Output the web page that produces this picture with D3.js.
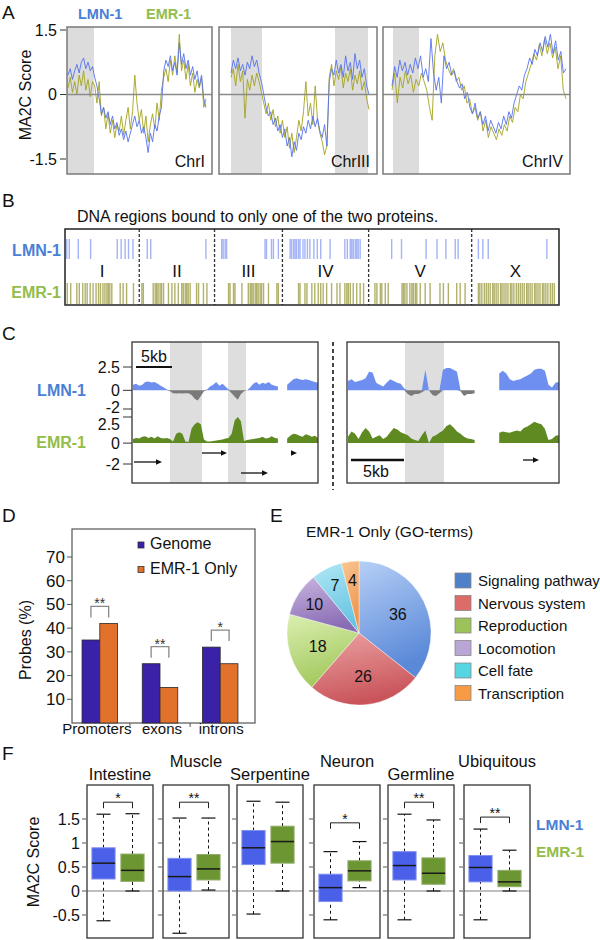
<!DOCTYPE html>
<html><head><meta charset="utf-8">
<script src="https://cdn.jsdelivr.net/npm/d3@7"></script>
<style>body{margin:0;background:#fff}svg{display:block}text{font-family:"Liberation Sans",Arial,Helvetica,sans-serif}</style>
</head><body>
<script>
// ================= DATA =================
// Panel A : MA2C score along chromosomes
const aSeries = ["LMN-1", "EMR-1"];
const aChroms = ["ChrI", "ChrIII", "ChrIV"];
const aTicks = [1.5, 0, -1.5];
const lmnChrI = [0.45,0.6,0.35,0.55,0.7,0.5,0.75,0.85,0.6,0.75,0.55,0.65,0.4,0.2,-0.1,-0.45,-0.3,-0.55,-0.4,-0.7,-0.5,-0.8,-0.65,-0.95,-0.8,-1.05,-0.85,-1.1,-0.9,-0.7,-0.5,-0.75,-0.6,-0.9,-0.75,-1.0,-1.35,-0.9,-1.1,-0.7,-0.85,-0.5,-0.3,0.55,0.8,0.65,0.9,0.55,0.75,0.45,1.2,0.7,0.95,0.6,0.8,0.45,0.65,0.35,0.55,0.2,0.45,-0.1,-0.3];
const emrChrI = [0.15,0.4,0.05,0.3,0.0,0.45,0.2,0.55,0.1,0.35,-0.05,0.3,0.2,-0.2,0.3,-0.5,-0.3,-0.8,-0.45,-0.9,-0.6,-1.0,-0.7,-0.85,-0.5,-0.95,-0.6,-0.3,-0.8,-0.4,0.45,-0.2,-0.6,-0.35,-0.9,-0.5,-1.1,-0.7,-0.45,-0.8,-0.2,-0.6,0.1,0.4,0.6,0.3,0.8,0.45,0.9,0.5,1.4,0.55,0.8,0.35,0.7,0.2,0.5,0.05,0.35,0.15,0.4,-0.3,-0.1];
const lmnChrIII = [0.5,0.8,0.6,0.85,0.55,0.7,0.45,0.75,0.6,0.9,0.65,0.8,0.5,0.3,0.0,-0.3,-0.5,-0.4,-0.7,-0.55,-0.85,-0.7,-1.0,-0.8,-1.2,-1.0,-1.45,-1.1,-1.3,-0.9,-1.05,-0.75,-0.9,-0.6,-0.8,-0.5,-0.75,-0.55,-0.85,-1.0,-0.7,-1.2,0.3,0.6,0.45,0.8,0.5,0.7,0.4,0.9,0.55,0.75,0.35,0.95,0.6,0.8,0.4,0.6,0.2,0.0];
const emrChrIII = [0.4,0.6,0.2,0.7,0.3,0.55,-0.55,0.35,0.1,0.45,0.2,0.5,0.3,0.05,-0.2,-0.45,-0.2,-0.6,-0.35,-0.75,-0.5,-0.9,-0.6,-1.0,-0.75,-1.25,-0.9,-1.35,-1.0,-0.6,-0.85,-0.4,0.3,-0.5,-0.2,-0.7,0.2,-0.6,-0.9,-1.1,-1.4,-1.2,0.4,0.7,0.2,0.55,0.35,0.65,0.15,0.5,0.3,0.6,0.1,0.45,0.25,0.55,0.1,0.3,-0.1,-0.35];
const lmnChrIV = [0.2,0.65,0.4,0.8,0.55,0.75,0.45,0.7,0.5,0.85,0.6,0.9,0.4,0.6,0.3,1.3,0.5,0.1,0.4,-0.2,0.9,0.6,0.75,0.45,0.55,0.3,0.15,0.25,-0.1,0.05,-0.3,-0.45,-0.2,-0.55,-0.4,-0.7,-0.5,-0.85,-0.6,-0.75,-0.9,-0.65,-0.8,-0.5,-0.7,-0.4,-0.55,-0.2,0.0,0.2,0.1,0.45,0.6,0.85,0.7,1.05,0.9,1.2,1.0,1.35,1.1,1.4,0.95,1.25,0.8,1.0,0.5,0.6];
const emrChrIV = [0.1,0.5,-0.2,0.4,0.15,0.55,0.25,0.45,0.05,0.35,0.2,0.5,0.3,0.1,-0.3,-0.6,0.9,1.4,1.0,1.2,0.8,0.6,0.45,0.6,0.3,0.4,0.1,0.2,-0.2,-0.1,-0.45,-0.3,-0.6,-0.4,-0.85,-0.6,-1.0,-0.75,-0.9,-1.05,-0.8,-0.95,-0.7,-0.85,-0.5,-0.65,-0.3,-0.4,0.0,-0.1,0.3,0.5,0.7,0.95,0.8,1.15,0.9,1.3,0.95,1.2,0.85,1.1,0.6,0.9,0.1,-0.1];

// Panel B : genome positions (Mb) of regions bound by only one protein
const chromNames = ["I","II","III","IV","V","X"];
const chromSizesMb = [15.07,15.28,13.78,17.49,20.92,17.72];
const lmnOnlyPos = [0.35,0.87,2.7,5.2,10.6,11.4,12.2,12.9,13.8,16.7,17.4,28.6,31.8,32.1,32.5,32.8,40.6,40.9,41.9,42.3,43.3,45.7,46.0,46.4,46.7,47.0,47.4,47.7,48.3,48.7,49.2,49.7,50.5,51.2,51.9,53.8,56.8,57.3,57.9,58.2,58.5,58.9,59.2,59.5,59.9,66.3,68.3,73.3,75.5,77.3,79.2,79.8,83.9,84.8,85.9,97.8];
const emrOnlyPos = [0.47,1.16,2.4,2.9,3.6,4.1,4.5,5.1,5.7,6.3,6.8,7.2,7.7,8.1,8.5,8.8,9.1,9.5,11.2,11.8,12.5,13.9,
 15.6,15.9,17.9,18.3,18.6,18.9,19.3,19.6,20.0,21.0,21.7,22.3,23.0,23.7,24.0,24.4,24.7,25.0,25.4,26.7,27.1,28.1,28.8,
 33.2,33.5,34.2,34.5,35.9,37.2,37.6,37.9,38.2,38.6,38.9,39.2,39.6,39.9,40.3,41.3,43.0,43.3,
 47.4,47.7,48.7,49.1,50.1,50.7,51.4,51.9,52.4,53.1,54.1,55.2,55.8,56.8,57.2,57.5,57.9,58.5,59.2,59.9,60.6,
 62.9,63.3,64.0,64.3,65.0,65.6,68.4,68.7,69.0,69.4,70.0,70.4,70.7,71.1,71.4,72.1,73.1,74.1,76.1,76.8,77.8,79.5,80.2,81.2,
 83.9,84.2,84.6,85.1,85.5,85.9,86.3,86.8,87.1,87.5,87.9,88.4,88.7,89.1,89.5,89.9,90.4,90.7,91.1,91.6,92.0,92.4,92.8,93.2,93.7,94.0,94.4,94.8,95.3,95.6,96.0,96.4,96.9,97.2,97.6,98.0,98.5,98.9,99.3];

// Panel C : ChIP tracks (score), two loci; null = no probes
const cTicks = [2.5, 0, -2];
const lmnTrackLeft = [0.6,0.7,0.5,0.6,0.9,0.95,0.85,0.9,0.7,0.5,0.3,0.1,-0.1,-0.3,-0.35,-0.3,-0.35,-0.3,-0.3,-0.5,-0.9,-1.1,-0.6,-0.1,0.1,0.4,0.6,0.9,0.5,0.7,0.4,0.1,-0.3,-0.7,-1.0,-0.4,-0.1,0.0,0.3,0.7,0.9,0.6,0.8,0.7,0.9,0.6,0.5,0.4,null,null,0.6,0.9,1.2,1.3,1.2,1.1,1.2,1.1,1.0,0.9,0.8];
const emrTrackLeft = [0.4,0.5,0.45,0.6,0.65,0.5,0.6,0.45,0.65,0.5,0.45,0.5,0.4,0.15,0.9,1.05,0.9,0.15,0.1,1.4,1.8,2.0,1.8,0.35,0.15,0.15,0.2,0.25,0.3,0.35,0.45,0.5,0.9,2.2,2.5,2.1,0.2,0.3,0.35,0.4,0.45,0.5,0.6,0.45,0.5,0.65,0.5,0.45,null,null,0.45,0.7,0.9,0.85,0.7,0.6,0.85,0.75,0.6,0.7,0.5];
const lmnTrackRight = [1.0,1.2,0.9,1.0,1.1,1.3,2.0,1.9,0.8,0.6,0.4,0.8,1.2,1.0,0.8,0.7,0.2,-0.4,-0.6,-0.4,-0.4,-0.2,2.2,0.0,-0.5,-0.6,-0.3,2.2,2.4,2.4,2.2,2.0,-0.1,-0.6,-0.4,-0.4,-0.3,null,null,null,null,null,null,1.8,2.1,1.8,1.2,1.0,1.1,1.2,1.4,1.6,1.8,2.2,2.3,2.3,2.1,0.6,0.3,0.8,0.9];
const emrTrackRight = [0.6,1.1,0.9,0.4,1.05,1.45,1.1,0.45,0.6,0.75,0.4,0.6,1.05,1.45,1.3,1.05,0.9,0.75,0.45,0.3,0.2,0.75,1.2,0.0,0.6,0.75,1.0,1.2,1.65,1.8,1.5,1.1,0.9,0.6,0.45,0.4,0.3,null,null,null,null,null,null,1.0,1.1,1.05,1.0,1.1,1.2,1.1,1.45,1.6,1.8,2.05,1.9,1.8,1.35,0.3,0.4,0.7,0.75];

// Panel D
const dCategories = ["Promoters","exons","introns"];
const dSeries = ["Genome","EMR-1 Only"];
const dGenome = [35,25,32];
const dEmrOnly = [42,15,25];
const dTicks = [10,20,30,40,50,60,70];
const dSig = ["**","**","*"];

// Panel E
const goTerms = ["Signaling pathway","Nervous system","Reproduction","Locomotion","Cell fate","Transcription"];
const goCounts = [36,26,18,10,7,4];

// Panel F : box stats [low whisker, Q1, median, Q3, high whisker]
const tissues = ["Intestine","Muscle","Serpentine","Neuron","Germline","Ubiquitous"];
const lmnBox = [[-0.62,0.25,0.58,0.9,1.6],[-0.88,0.0,0.3,0.68,1.52],[-0.48,0.55,0.9,1.26,1.87],[-0.6,-0.22,0.07,0.35,0.82],[-0.6,0.23,0.53,0.82,1.6],[-0.6,0.19,0.49,0.74,1.29]];
const emrBox = [[0.0,0.2,0.43,0.77,1.61],[0.02,0.23,0.46,0.76,1.52],[0.0,0.58,1.03,1.35,1.85],[0.07,0.21,0.42,0.63,1.03],[0.0,0.14,0.37,0.69,1.48],[0.0,0.09,0.19,0.43,0.85]];
const fTicks = [1.5,1,0.5,0,-0.5];
const fSig = ["*","**","","*","**","**"];
const fSigLevel = [1.85,1.85,null,1.42,1.85,1.54];

// ================= STYLE =================
const LMN_TXT = "#4a7fd6", EMR_TXT = "#93bd49";
const svg = d3.select("body").append("svg").attr("width",600).attr("height",940);
const defs = svg.append("defs");
function T(x,y,s,o={}){
  const t = svg.append("text").attr("x",x).attr("y",y).text(s)
    .attr("font-size",o.size||16).attr("fill",o.fill||"#111").attr("text-anchor",o.anchor||"start");
  if(o.weight) t.attr("font-weight",o.weight);
  if(o.rotate!=null) t.attr("transform",`rotate(${o.rotate},${x},${y})`);
  return t;
}
function L(x1,y1,x2,y2,c,w,dash){
  const l = svg.append("line").attr("x1",x1).attr("y1",y1).attr("x2",x2).attr("y2",y2).attr("stroke",c||"#111").attr("stroke-width",w||1);
  if(dash) l.attr("stroke-dasharray",dash);
  return l;
}
// panel letters
[["A",2,19],["B",2,207],["C",2,340],["D",2,522],["E",270,522],["F",2,760]].forEach(p=>T(p[1],p[2],p[0],{size:19}));

// ================= PANEL A =================
T(78,19,aSeries[0],{size:14.5,weight:"bold",fill:LMN_TXT});
T(146,19,aSeries[1],{size:14.5,weight:"bold",fill:EMR_TXT});
const aTop=27, aBot=174;
const aY = d3.scaleLinear().domain([-1.5,1.5]).range([159,30]);
T(31,95,"MA2C Score",{size:16,anchor:"middle",rotate:-90});
aTicks.forEach(v=>{ L(60,aY(v),66,aY(v),"#333",1); T(57,aY(v)+5.5,String(v),{size:16,anchor:"end"}); });
const aLayout=[{x0:67,x1:212,d0:68,d1:206,shades:[[67,94]]},{x0:219,x1:377,d0:231,d1:369,shades:[[231,262],[335,368]]},{x0:383,x1:570,d0:392,d1:566,shades:[[393,419]]}];
const aData=[[lmnChrI,emrChrI],[lmnChrIII,emrChrIII],[lmnChrIV,emrChrIV]];
aLayout.forEach((p,k)=>{
  defs.append("clipPath").attr("id","clipA"+k).append("rect").attr("x",p.x0).attr("y",aTop).attr("width",p.x1-p.x0).attr("height",aBot-aTop);
  const g = svg.append("g").attr("clip-path",`url(#clipA${k})`);
  p.shades.forEach(s=>g.append("rect").attr("x",s[0]).attr("y",aTop).attr("width",s[1]-s[0]).attr("height",aBot-aTop).attr("fill","#dcdcdc"));
  const [lmn,emr]=aData[k];
  [[emr,"#a3a31e"],[lmn,"#5572f0"]].forEach(([vals,col])=>{
    const xs=d3.scaleLinear().domain([0,vals.length-1]).range([p.d0,p.d1]);
    g.append("path").datum(vals).attr("d",d3.line().x((d,i)=>xs(i)).y(d=>aY(d)))
      .attr("fill","none").attr("stroke",col).attr("stroke-width",1).attr("stroke-linejoin","round").attr("opacity",0.9);
  });
  L(p.x0,aY(0),p.x1,aY(0),"#8a8a8a",1.5);
  svg.append("rect").attr("x",p.x0).attr("y",aTop).attr("width",p.x1-p.x0).attr("height",aBot-aTop).attr("fill","none").attr("stroke","#7a7a7a").attr("stroke-width",1.5);
  T(p.x1-7,167,aChroms[k],{size:16,anchor:"end"});
});

// ================= PANEL B =================
T(77,222,"DNA regions bound to only one of the two proteins.",{size:16});
const genomeLen=d3.sum(chromSizesMb);
const bX=d3.scaleLinear().domain([0,genomeLen]).range([65,559]);
const cum=d3.cumsum(chromSizesMb);
lmnOnlyPos.forEach(p=>L(bX(p),239,bX(p),259,"#5a78f0",1.4).attr("opacity",0.55));
emrOnlyPos.forEach(p=>L(bX(p),283,bX(p),304,"#7e7e0a",1.4).attr("opacity",0.6));
chromNames.forEach((c,i)=>{
  const s=i?cum[i-1]:0;
  T(bX((s+cum[i])/2),277,c,{size:17,anchor:"middle"});
  if(i>0) L(bX(s),229,bX(s),305,"#333",1.3,"3,2");
});
svg.append("rect").attr("x",65).attr("y",229).attr("width",494).attr("height",76).attr("fill","none").attr("stroke","#222").attr("stroke-width",1.5);
T(61,256,"LMN-1",{size:16,weight:"bold",fill:LMN_TXT,anchor:"end"});
T(61,298,"EMR-1",{size:16,weight:"bold",fill:EMR_TXT,anchor:"end"});

// ================= PANEL C =================
const cTop=342,cBot=483;
const yLmn=d3.scaleLinear().domain([-2,2.5]).range([409,367]);
const yEmr=d3.scaleLinear().domain([-2,2.5]).range([464,417]);
const cBoxes=[{x0:132,x1:318,lmn:lmnTrackLeft,emr:emrTrackLeft,shades:[[170,202],[228,246]],arrows:[[134,162,462],[202,227,453],[241,268,473],[291,297,453]]},
              {x0:347,x1:559,lmn:lmnTrackRight,emr:emrTrackRight,shades:[[405,444]],arrows:[[523,539,460]]}];
cBoxes.forEach((b,k)=>{
  defs.append("clipPath").attr("id","clipC"+k).append("rect").attr("x",b.x0).attr("y",cTop).attr("width",b.x1-b.x0).attr("height",cBot-cTop);
  const g=svg.append("g").attr("clip-path",`url(#clipC${k})`);
  b.shades.forEach(s=>g.append("rect").attr("x",s[0]).attr("y",cTop).attr("width",s[1]-s[0]).attr("height",cBot-cTop).attr("fill","#dedede"));
  const xs=d3.scaleLinear().domain([0,b.lmn.length-1]).range([b.x0+1,b.x1]);
  const area=(ys,f)=>d3.area().defined(d=>d!=null).x((d,i)=>xs(i)).y0(ys(0)).y1(d=>ys(f(d)));
  g.append("path").datum(b.lmn).attr("d",area(yLmn,d=>Math.max(d,0))).attr("fill","#6e8ff0");
  g.append("path").datum(b.lmn).attr("d",area(yLmn,d=>Math.min(d,0))).attr("fill","#7a7a7a");
  g.append("path").datum(b.emr).attr("d",area(yEmr,d=>Math.max(d,0))).attr("fill","#5f8a22");
  g.append("path").datum(b.emr).attr("d",area(yEmr,d=>Math.min(d,0))).attr("fill","#7a7a7a");
  b.arrows.forEach(a=>{
    L(a[0],a[2],a[1]-3,a[2],"#111",1.3);
    svg.append("path").attr("d",`M${a[1]},${a[2]}L${a[1]-6},${a[2]-2.8}L${a[1]-6},${a[2]+2.8}Z`).attr("fill","#111");
  });
  svg.append("rect").attr("x",b.x0).attr("y",cTop).attr("width",b.x1-b.x0).attr("height",cBot-cTop).attr("fill","none").attr("stroke","#333").attr("stroke-width",1.3);
});
L(333,342,333,490,"#444",2,"4,3");
// scale bars
L(136,367,172,367,"#111",2); T(154,362,"5kb",{size:16,anchor:"middle"});
L(351,460,404,460,"#111",2.5); T(376,477,"5kb",{size:16,anchor:"middle"});
// axes
[[yLmn,0],[yEmr,1]].forEach(([ys,k])=>{
  cTicks.forEach(v=>{
    L(123,ys(v),132,ys(v),"#333",1);
    const shift=(k===1&&v===2.5)?7:(k===0&&v===-2)?-2:0;
    T(120,ys(v)+5.5+shift,String(v),{size:16,anchor:"end"});
  });
});
T(86,396,"LMN-1",{size:16,weight:"bold",fill:LMN_TXT,anchor:"end"});
T(86,448,"EMR-1",{size:16,weight:"bold",fill:EMR_TXT,anchor:"end"});

// ================= PANEL D =================
const dY=d3.scaleLinear().domain([0,70]).range([723,557]);
const dX=d3.scaleBand().domain(dCategories).range([70,250]).paddingInner(0.41).paddingOuter(0.2);
const dIn=d3.scaleBand().domain(dSeries).range([0,dX.bandwidth()]);
const dCols=["#3b20a8","#e2712b"];
svg.append("rect").attr("x",72).attr("y",529).attr("width",183).attr("height",194).attr("fill","none").attr("stroke","#555").attr("stroke-width",1.2);
dTicks.forEach(v=>{ L(67,dY(v),72,dY(v),"#555",1); T(65,dY(v)+6,String(v),{size:17,anchor:"end"}); });
const dLabelX=[-3,2,1];
dCategories.forEach((c,i)=>{
  const vals=[dGenome[i],dEmrOnly[i]];
  vals.forEach((v,j)=>{
    svg.append("rect").attr("x",dX(c)+dIn(dSeries[j])).attr("y",dY(v)).attr("width",dIn.bandwidth()).attr("height",dY(0)-dY(v))
      .attr("fill",dCols[j]).attr("stroke","#2a2a2a").attr("stroke-width",0.8);
  });
  const c1=dX(c)+dIn(dSeries[0])+dIn.bandwidth()/2, c2=dX(c)+dIn(dSeries[1])+dIn.bandwidth()/2;
  const top=dY(d3.max(vals))-17;
  svg.append("path").attr("d",`M${c1},${top+11}V${top}H${c2}V${top+11}`).attr("fill","none").attr("stroke","#888").attr("stroke-width",1.3);
  T((c1+c2)/2,top+2,dSig[i],{size:14,anchor:"middle",fill:"#333"});
  T(dX(c)+dX.bandwidth()/2+dLabelX[i],734,c,{size:15,anchor:"middle"});
  if(i>0) L(dX(c)-dX.step()*dX.paddingInner()/2,723,dX(c)-dX.step()*dX.paddingInner()/2,727,"#555",1);
});
dSeries.forEach((s,j)=>{
  svg.append("rect").attr("x",138).attr("y",542+j*24.5).attr("width",6).attr("height",6).attr("fill",dCols[j]).attr("stroke","#333").attr("stroke-width",0.8);
  T(150,549+j*24.5,s,{size:16});
});
T(31,640,"Probes (%)",{size:16,anchor:"middle",rotate:-90});

// ================= PANEL E =================
T(306,537,"EMR-1 Only (GO-terms)",{size:15.5});
const pcx=359,pcy=633,pr=72;
const pieLight=["#b6cff6","#eca3a3","#dcefb2","#c8b6e0","#b0e8f5","#f9c794"];
const pieDark=["#5a89d8","#c9555b","#a3c95e","#8a6cb5","#68c4e2","#ee944c"];
const legCols=["#4f81c9","#dd6b68","#9cc35a","#b9a5d6","#58d5e3","#f79b45"];
pieLight.forEach((c,i)=>{
  const gr=defs.append("linearGradient").attr("id","pg"+i).attr("x1",0).attr("y1",0).attr("x2",0.3).attr("y2",1);
  gr.append("stop").attr("offset","0%").attr("stop-color",c);
  gr.append("stop").attr("offset","100%").attr("stop-color",pieDark[i]);
});
const arcs=d3.pie().sort(null).value(d=>d)(goCounts);
const arc=d3.arc().innerRadius(0).outerRadius(pr);
const pg=svg.append("g").attr("transform",`translate(${pcx},${pcy})`);
pg.selectAll("path").data(arcs).join("path").attr("d",arc).attr("fill",(d,i)=>`url(#pg${i})`).attr("stroke","#fff").attr("stroke-width",0.4);
arcs.forEach(a=>{
  const rr=a.value<12?pr*0.74:pr*0.6;
  const m=(a.startAngle+a.endAngle)/2;
  T(pcx+Math.sin(m)*rr,pcy-Math.cos(m)*rr+6,String(a.value),{size:16,anchor:"middle"});
});
goTerms.forEach((t,i)=>{
  svg.append("rect").attr("x",455).attr("y",573+i*22.5).attr("width",16).attr("height",15).attr("fill",legCols[i]).attr("stroke","#888").attr("stroke-width",0.8);
  T(478,586+i*22.5,t,{size:15});
});

// ================= PANEL F =================
const fY=d3.scaleLinear().domain([0,1.5]).range([891,819]);
const fLefts=[87,163,237,314,388,464], fW=66, fTop=785, fBot=938;
const fIn=d3.scaleBand().domain(aSeries).range([2,60]).paddingInner(0.2).paddingOuter(0.1);
const fFill=["#4a60e8","#6b9632"], fStroke=["#8090ee","#94ad6c"];
T(39,862,"MA2C Score",{size:16,anchor:"middle",rotate:-90});
fTicks.forEach(v=>T(80,fY(v)+6,String(v),{size:16,anchor:"end"}));
tissues.forEach((t,i)=>{
  const x0=fLefts[i];
  T(x0+fW/2,i%2?767:780,t,{size:16.5,anchor:"middle"});
  fTicks.forEach(v=>L(x0-5,fY(v),x0-1,fY(v),"#555",1));
  L(x0,fY(0),x0+fW,fY(0),"#aaa",1.5);
  const cs=[];
  [lmnBox[i],emrBox[i]].forEach((s,j)=>{
    const bx=x0+fIn(aSeries[j]), bw=fIn.bandwidth(), cx=bx+bw/2; cs.push(cx);
    L(cx,fY(s[3]),cx,fY(s[4]),"#111",1,"3,3");
    L(cx,fY(s[0]),cx,fY(s[1]),"#111",1,"3,3");
    L(cx-7,fY(s[4]),cx+7,fY(s[4]),"#111",1.2);
    L(cx-7,fY(s[0]),cx+7,fY(s[0]),"#111",1.2);
    svg.append("rect").attr("x",bx).attr("y",fY(s[3])).attr("width",bw).attr("height",fY(s[1])-fY(s[3])).attr("fill",fFill[j]).attr("stroke",fStroke[j]).attr("stroke-width",1);
    L(bx,fY(s[2]),bx+bw,fY(s[2]),"#1a1a1a",1.5);
  });
  if(fSig[i]){
    const y=fY(fSigLevel[i]);
    svg.append("path").attr("d",`M${cs[0]},${y+6}V${y}H${cs[1]}V${y+6}`).attr("fill","none").attr("stroke","#222").attr("stroke-width",1);
    T((cs[0]+cs[1])/2,y+1,fSig[i],{size:14,anchor:"middle"});
  }
  svg.append("rect").attr("x",x0).attr("y",fTop).attr("width",fW).attr("height",fBot-fTop).attr("fill","none").attr("stroke","#333").attr("stroke-width",1.3);
});
T(536,830,"LMN-1",{size:15.5,weight:"bold",fill:LMN_TXT});
T(536,857,"EMR-1",{size:15.5,weight:"bold",fill:EMR_TXT});
</script>
</body></html>
